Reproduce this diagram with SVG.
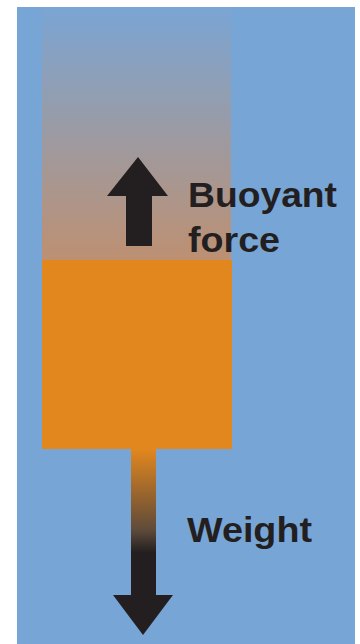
<svg xmlns="http://www.w3.org/2000/svg" width="360" height="644" viewBox="0 0 360 644">
  <defs>
    <linearGradient id="fade" x1="0" y1="0" x2="0" y2="1">
      <stop offset="0" stop-color="#7AA5D4"/>
      <stop offset="1" stop-color="#BD9072"/>
    </linearGradient>
    <linearGradient id="stem" x1="0" y1="0" x2="0" y2="1">
      <stop offset="0" stop-color="#E2871E"/>
      <stop offset="0.55" stop-color="#5E4A3A"/>
      <stop offset="0.7" stop-color="#231F20"/>
      <stop offset="1" stop-color="#231F20"/>
    </linearGradient>
    <style>
      .lbl { font-family: "Liberation Sans", Arial, sans-serif; font-weight: bold; font-size: 35px; fill: #231F20; }
      .dark { fill: #231F20; }
    </style>
  </defs>
  <rect x="0" y="0" width="360" height="644" fill="#FFFFFF"/>
  <rect x="17" y="7" width="338" height="637" fill="#77A5D6"/>
  <g id="displaced-fluid">
    <rect x="42" y="7" width="189" height="253" fill="url(#fade)"/>
  </g>
  <g id="block">
    <rect x="42" y="260" width="190" height="189" fill="#E2871E"/>
  </g>
  <g id="connectors">
    <g id="buoyant-arrow">
      <polygon class="dark" points="138,157 168,196 152,196 152,246 126,246 126,196 107,196"/>
    </g>
    <g id="weight-arrow">
      <rect x="131" y="449" width="25" height="148" fill="url(#stem)"/>
      <polygon class="dark" points="113,595 173,595 143,635"/>
    </g>
  </g>
  <g id="labels">
    <text class="lbl" x="188" y="207" textLength="149" lengthAdjust="spacingAndGlyphs">Buoyant</text>
    <text class="lbl" x="188" y="252" textLength="92" lengthAdjust="spacingAndGlyphs">force</text>
    <text class="lbl" x="187" y="542" textLength="125" lengthAdjust="spacingAndGlyphs">Weight</text>
  </g>
</svg>
